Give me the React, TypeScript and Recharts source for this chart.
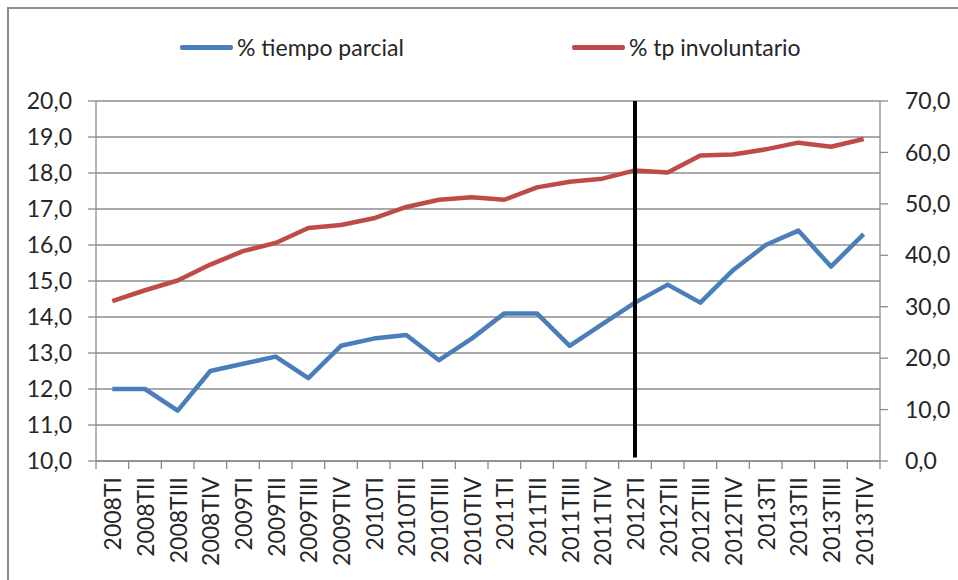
import React from 'react';
import {
    LineChart,
    Line,
    CartesianGrid,
    XAxis,
    YAxis,
    Legend,
    ReferenceLine,
} from 'recharts';

const quarters = [
    '2008TI', '2008TII', '2008TIII', '2008TIV',
    '2009TI', '2009TII', '2009TIII', '2009TIV',
    '2010TI', '2010TII', '2010TIII', '2010TIV',
    '2011TI', '2011TII', '2011TIII', '2011TIV',
    '2012TI', '2012TII', '2012TIII', '2012TIV',
    '2013TI', '2013TII', '2013TIII', '2013TIV',
];

// % tiempo parcial (eje izquierdo)
const tiempoParcial = [
    12.0, 12.0, 11.4, 12.5,
    12.7, 12.9, 12.3, 13.2,
    13.4, 13.5, 12.8, 13.4,
    14.1, 14.1, 13.2, 13.8,
    14.4, 14.9, 14.4, 15.3,
    16.0, 16.4, 15.4, 16.3,
];

// % tp involuntario (eje derecho)
const tpInvoluntario = [
    31.1, 33.2, 35.1, 38.2,
    40.8, 42.4, 45.3, 45.9,
    47.2, 49.4, 50.8, 51.3,
    50.8, 53.2, 54.3, 54.9,
    56.5, 56.1, 59.4, 59.6,
    60.6, 61.9, 61.1, 62.6,
];

const leftTicks = [10, 11, 12, 13, 14, 15, 16, 17, 18, 19, 20];
const rightTicks = [0, 10, 20, 30, 40, 50, 60, 70];
const markerQuarter = '2012TI';

const chartData = quarters.map((q, i) => ({
    q,
    parcial: tiempoParcial[i],
    involuntario: tpInvoluntario[i],
}));

const GRID = '#8c8c8c';
const TEXT = '#262626';
const FONT = 'Lato, "Open Sans", sans-serif';

const PLOT_W = 958 - 96 - 78;
// Excel-style category axis: half a category of space on each side
const halfBand = PLOT_W / quarters.length / 2;

const fmt = (v: number) => v.toFixed(1).replace('.', ',');

const QuarterTick = (props: any) => {
    const { x, y, payload, visibleTicksCount, index } = props;
    const top = y - 8;
    return (
        <g>
            <line x1={x - halfBand} x2={x - halfBand} y1={top} y2={top + 8} stroke={GRID} strokeWidth={1.3} />
            {index === visibleTicksCount - 1 && (
                <line x1={x + halfBand} x2={x + halfBand} y1={top} y2={top + 8} stroke={GRID} strokeWidth={1.3} />
            )}
            <text
                x={x}
                y={y + 8}
                transform={`rotate(-90 ${x} ${y + 8})`}
                textAnchor="end"
                dominantBaseline="central"
                fontSize={23}
                fill={TEXT}
                fontFamily={FONT}
            >
                {payload.value}
            </text>
        </g>
    );
};

const legendLeft = [180, 572];

const LegendContent = (props: any) => {
    const { payload } = props;
    return (
        <div style={{ position: 'relative', width: 958, height: 30 }}>
            {(payload || []).map((item: any, i: number) => (
                <div
                    key={item.value}
                    style={{
                        position: 'absolute',
                        left: legendLeft[i],
                        top: 0,
                        display: 'flex',
                        alignItems: 'center',
                        whiteSpace: 'nowrap',
                    }}
                >
                    <span style={{ display: 'inline-block', width: 53, height: 5, background: item.color, borderRadius: 2, marginRight: 4 }} />
                    <span style={{ fontSize: 23, color: TEXT, fontFamily: FONT, lineHeight: '30px' }}>{item.value}</span>
                </div>
            ))}
        </div>
    );
};

export default function App() {
    return (
        <div style={{ position: 'absolute', left: 0, top: 0, width: 958, height: 580, overflow: 'hidden', background: '#fff', fontFamily: FONT }}>
            <div style={{ position: 'absolute', left: 7, top: 7, width: 1000, height: 1000, border: `2px solid ${GRID}` }} />
            <div style={{ position: 'absolute', left: 0, top: 0 }}>
                <LineChart width={958} height={580} data={chartData} margin={{ top: 101, right: 0, left: 0, bottom: 0 }}>
                    <CartesianGrid yAxisId="left" vertical={false} stroke={GRID} strokeWidth={1.3} />
                    <XAxis
                        dataKey="q"
                        height={119}
                        interval={0}
                        padding={{ left: halfBand, right: halfBand }}
                        tickLine={false}
                        tickSize={8}
                        tickMargin={0}
                        axisLine={{ stroke: GRID, strokeWidth: 1.3 }}
                        tick={<QuarterTick />}
                    />
                    <YAxis
                        yAxisId="left"
                        width={96}
                        domain={[10, 20]}
                        ticks={leftTicks}
                        tickFormatter={fmt}
                        tickSize={8}
                        tickMargin={16}
                        axisLine={{ stroke: GRID, strokeWidth: 1.3 }}
                        tickLine={{ stroke: GRID, strokeWidth: 1.3 }}
                        tick={{ fontSize: 23, fill: TEXT, fontFamily: FONT }}
                    />
                    <YAxis
                        yAxisId="right"
                        orientation="right"
                        width={78}
                        domain={[0, 70]}
                        ticks={rightTicks}
                        tickFormatter={fmt}
                        tickSize={8}
                        tickMargin={17}
                        axisLine={{ stroke: GRID, strokeWidth: 1.3 }}
                        tickLine={{ stroke: GRID, strokeWidth: 1.3 }}
                        tick={{ fontSize: 23, fill: TEXT, fontFamily: FONT, textAnchor: 'start' }}
                    />
                    <Legend
                        layout="vertical"
                        verticalAlign="middle"
                        align="center"
                        wrapperStyle={{ top: 32, left: 0, width: 958 }}
                        content={<LegendContent />}
                    />
                    <Line
                        yAxisId="left"
                        type="linear"
                        dataKey="parcial"
                        name="% tiempo parcial"
                        stroke="#4a7ebb"
                        strokeWidth={4.5}
                        strokeLinejoin="round"
                        dot={false}
                        isAnimationActive={false}
                    />
                    <Line
                        yAxisId="right"
                        type="linear"
                        dataKey="involuntario"
                        name="% tp involuntario"
                        stroke="#be4b48"
                        strokeWidth={4.5}
                        strokeLinejoin="round"
                        dot={false}
                        isAnimationActive={false}
                    />
                    <ReferenceLine
                        yAxisId="left"
                        segment={[{ x: markerQuarter, y: 10.1 }, { x: markerQuarter, y: 20 }]}
                        stroke="#000"
                        strokeWidth={4}
                    />
                </LineChart>
            </div>
        </div>
    );
}
